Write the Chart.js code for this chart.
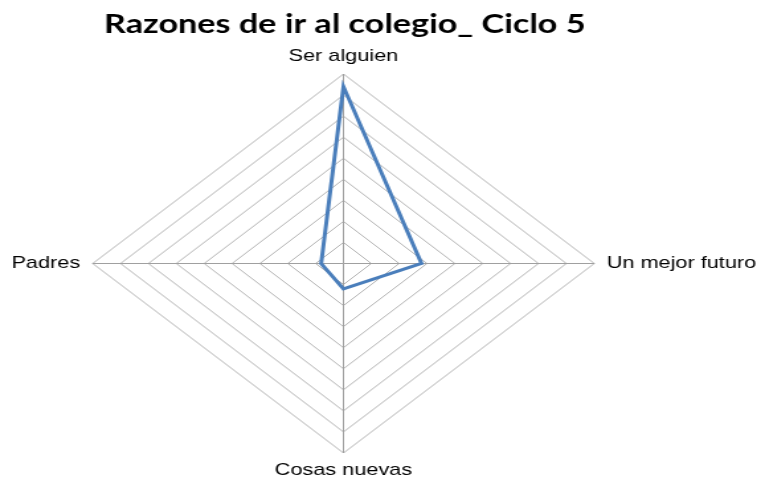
<!DOCTYPE html>
<html><head><meta charset="utf-8">
<script src="https://cdn.jsdelivr.net/npm/chart.js@4.4.0/dist/chart.umd.min.js"></script>
<style>
html,body{margin:0;padding:0;background:#fff;overflow:hidden}
#c{display:block;width:761px !important;height:479px !important}
</style></head>
<body><canvas id="c" width="575" height="479" style="width:761px;height:479px"></canvas>
<script>
// ---- data ----
const titleText = 'Razones de ir al colegio_ Ciclo 5';
const categories = ['Ser alguien', 'Un mejor futuro', 'Cosas nuevas', 'Padres'];
const values = [42, 14, 6, 4];
const axisMin = 0;
const axisMax = 45;
const axisStep = 5;

// ---- layout (internal canvas px; canvas is stretched horizontally like the reference) ----
const CX = 259.5, CY = 263.5, RADIUS = 189.5;

new Chart(document.getElementById('c'), {
  type: 'radar',
  data: {
    labels: categories,
    datasets: [{
      label: 'Ciclo 5',
      data: values,
      borderColor: '#4a7ebb',
      borderWidth: 3,
      backgroundColor: 'rgba(0,0,0,0)',
      fill: false,
      pointRadius: 0,
      pointHoverRadius: 0,
      borderJoinStyle: 'miter',
      tension: 0,
      clip: false
    }]
  },
  options: {
    responsive: false,
    animation: false,
    devicePixelRatio: 1,
    layout: { padding: { left: 0, right: 54, top: 0, bottom: 0 } },
    plugins: {
      legend: { display: false },
      tooltip: { enabled: false },
      title: {
        display: true,
        text: titleText,
        color: '#000',
        font: { family: 'Lato', weight: 'bold', size: 25.8, lineHeight: 1.2 },
        padding: { top: 9, bottom: 7 }
      }
    },
    scales: {
      r: {
        min: axisMin,
        max: axisMax,
        ticks: { display: false, stepSize: axisStep },
        grid: { color: '#b2b2b2', lineWidth: 1 },
        angleLines: { color: '#a0a0a0', lineWidth: 1 },
        pointLabels: {
          color: '#000',
          font: { family: 'Liberation Sans', size: 16.4, lineHeight: 1 },
          padding: 9.4
        },
        afterSetDimensions(s) {
          s.xCenter = CX;
          s.yCenter = CY;
          s.drawingArea = RADIUS;
          s.setCenterPoint = function () {};
        }
      }
    }
  }
});
</script>
</body></html>
